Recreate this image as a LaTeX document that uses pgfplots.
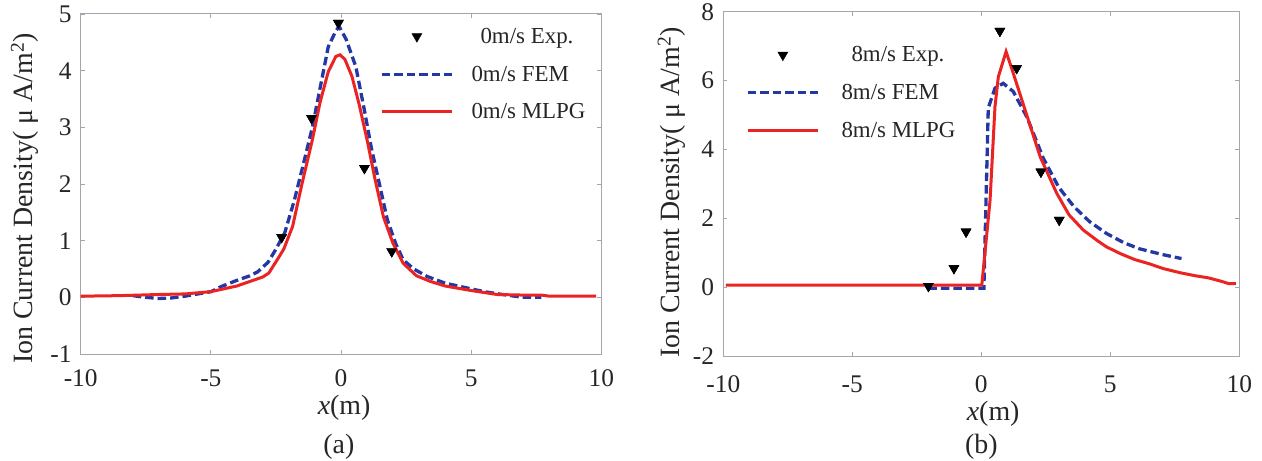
\documentclass[border=0pt]{standalone}
\usepackage{fontspec}
\setmainfont{Liberation Serif}
\usepackage{graphicx}
\usepackage{pgfplots}
\pgfplotsset{compat=1.18}
\definecolor{femblue}{RGB}{35,55,165}
\definecolor{mlpgred}{RGB}{235,35,35}
\definecolor{axgray}{RGB}{165,165,175}

\pgfplotsset{
  mystyle/.style={
    scale only axis,
    clip mode=individual,
    xmin=-10, xmax=10,
    xtick={-10,-5,0,5,10},
    tick align=inside,
    tick pos=both,
    major tick length=4bp,
    axis line style={axgray, line width=1bp},
    tick style={axgray, line width=0.8bp},
    tick label style={font=\fontsize{25.5}{25.5}\selectfont, text=black!85},
    /pgf/number format/assume math mode=true,
    yticklabel style={anchor=east, inner sep=0pt, xshift=-9bp},
    label style={font=\fontsize{28}{28}\selectfont, text=black!85},
    legend cell align=left,
    legend style={draw=none, fill=none, font=\fontsize{23}{23}\selectfont,
      inner sep=0pt, row sep=17bp, column sep=16bp, text=black!85},
    legend image code/.code={\draw[mark repeat=2,mark phase=2,#1] plot coordinates {(0bp,0bp) (35bp,0bp) (70bp,0bp)};},
  },
  expstyle/.style={only marks, mark=triangle*, mark size=5.8bp, black, mark options={rotate=180, black}},
  femstyle/.style={femblue, line width=3.3bp, dash pattern=on 8.5bp off 4bp, no marks},
  mlpgstyle/.style={mlpgred, line width=3bp, no marks},
}

\begin{document}
\begin{tikzpicture}
\useasboundingbox (0,0) rectangle (1262bp,461bp);

% ---------------- (a) ----------------
\begin{axis}[mystyle,
  at={(80.7bp,107bp)}, anchor=south west,
  width=520.6bp, height=340bp,
  ymin=-1, ymax=5, ytick={-1,0,1,2,3,4,5},
  xticklabel style={anchor=base, yshift=-32.5bp},
  xlabel={\textit{x}(m)},
  xlabel style={at={(axis description cs:0.506,-0.158)}, anchor=center},
  ylabel={Ion Current Density( μ A/m\textsuperscript{2})},
  ylabel style={at={(axis description cs:-0.107,0.457)}, anchor=center, rotate=0},
  legend style={at={(axis description cs:0.575,0.965)}, anchor=north west},
]
\addplot[expstyle] coordinates {(-2.28,1.06) (-1.13,3.16) (-0.10,4.84) (0.90,2.28) (1.95,0.81)};
\addlegendentry{\hspace*{9bp}0m/s Exp.}
\addplot[femstyle] coordinates {
(-8,0.03) (-7.5,0.0) (-7,-0.02) (-6.5,-0.01) (-6,0.02) (-5.5,0.06) (-5,0.1)
(-4.6,0.19) (-4,0.3) (-3.5,0.38) (-3.2,0.45) (-2.8,0.62) (-2.5,0.85) (-2.16,1.14)
(-1.8,1.7) (-1.5,2.25) (-1.1,3.0) (-0.8,3.7) (-0.49,4.42) (-0.2,4.7) (-0.07,4.78)
(0.2,4.55) (0.57,4.07) (0.9,3.3) (1.16,2.65) (1.5,1.95) (1.78,1.37) (2.1,0.95)
(2.39,0.66) (2.8,0.5) (3.3,0.37) (4.0,0.25) (4.8,0.17) (5.5,0.1) (6.2,0.05)
(7,0.0) (7.7,0.0)};
\addlegendentry{0m/s FEM}
\addplot[mlpgstyle] coordinates {
(-10,0.02) (-8.5,0.03) (-7,0.05) (-6,0.06) (-5,0.1) (-4.5,0.15) (-4,0.2)
(-3.5,0.28) (-3.0,0.36) (-2.77,0.43) (-2.4,0.7) (-2.2,0.85) (-1.86,1.25)
(-1.5,2.0) (-1.1,2.78) (-0.8,3.45) (-0.49,3.98) (-0.2,4.25) (-0.04,4.28)
(0.15,4.2) (0.42,3.9) (0.7,3.4) (1.03,2.72) (1.3,2.1) (1.63,1.42) (2.0,0.95)
(2.39,0.6) (2.9,0.38) (3.44,0.28) (4,0.2) (5,0.12) (6,0.05) (7,0.04) (7.7,0.04)
(8,0.02) (9.8,0.02)};
\addlegendentry{0m/s MLPG}
\addplot[expstyle, forget plot] coordinates {(-2.28,1.06) (-1.13,3.16) (-0.10,4.84) (0.90,2.28) (1.95,0.81)};
\node[font=\fontsize{28}{28}\selectfont, text=black!85] at (axis description cs:0.496,-0.273) {(a)};
\end{axis}

% ---------------- (b) ----------------
\begin{axis}[mystyle,
  at={(723.3bp,105bp)}, anchor=south west,
  width=516bp, height=344.3bp,
  ymin=-2, ymax=8, ytick={-2,0,2,4,6,8},
  xticklabel style={anchor=base, yshift=-36bp},
  xlabel={\textit{x}(m)},
  xlabel style={at={(axis description cs:0.523,-0.168)}, anchor=center},
  ylabel={Ion Current Density( μ A/m\textsuperscript{2})},
  ylabel style={at={(axis description cs:-0.100,0.475)}, anchor=center, rotate=0},
  legend style={at={(axis description cs:0.044,0.905)}, anchor=north west, column sep=20bp},
]
\addplot[expstyle] coordinates {(-2.05,0.03) (-1.06,0.55) (-0.59,1.61) (0.72,7.44) (1.37,6.36) (2.31,3.35) (3.02,1.95)};
\addlegendentry{\hspace*{10bp}8m/s Exp.}
\addplot[femstyle] coordinates {
(-2.05,-0.03) (-1,-0.03) (0,-0.03) (0.1,-0.03) (0.27,5.2) (0.53,5.78) (0.85,5.92)
(1.24,5.68) (1.76,4.95) (2.4,3.75) (3.0,2.9) (3.6,2.33) (4.2,1.9) (4.85,1.56)
(5.5,1.3) (6.1,1.12) (7.0,0.95) (7.76,0.83)};
\addlegendentry{8m/s FEM}
\addplot[mlpgstyle] coordinates {
(-9.9,0.06) (0.02,0.06) (0.34,2.53) (0.53,5.24) (0.66,6.11) (0.96,6.84) (1.24,6.21)
(1.76,5.0) (2.28,3.79) (2.92,2.73) (3.4,2.1) (3.95,1.66) (4.5,1.35) (4.85,1.17)
(5.4,0.97) (5.95,0.8) (6.5,0.68) (7.05,0.54) (7.7,0.42) (8.3,0.33) (8.8,0.27)
(9.3,0.17) (9.6,0.1) (9.87,0.1)};
\addlegendentry{8m/s MLPG}
\addplot[expstyle, forget plot] coordinates {(-2.05,0.03) (-1.06,0.55) (-0.59,1.61) (0.72,7.44) (1.37,6.36) (2.31,3.35) (3.02,1.95)};
\node[font=\fontsize{28}{28}\selectfont, text=black!85] at (axis description cs:0.5,-0.264) {(b)};
\end{axis}
\end{tikzpicture}
\end{document}
